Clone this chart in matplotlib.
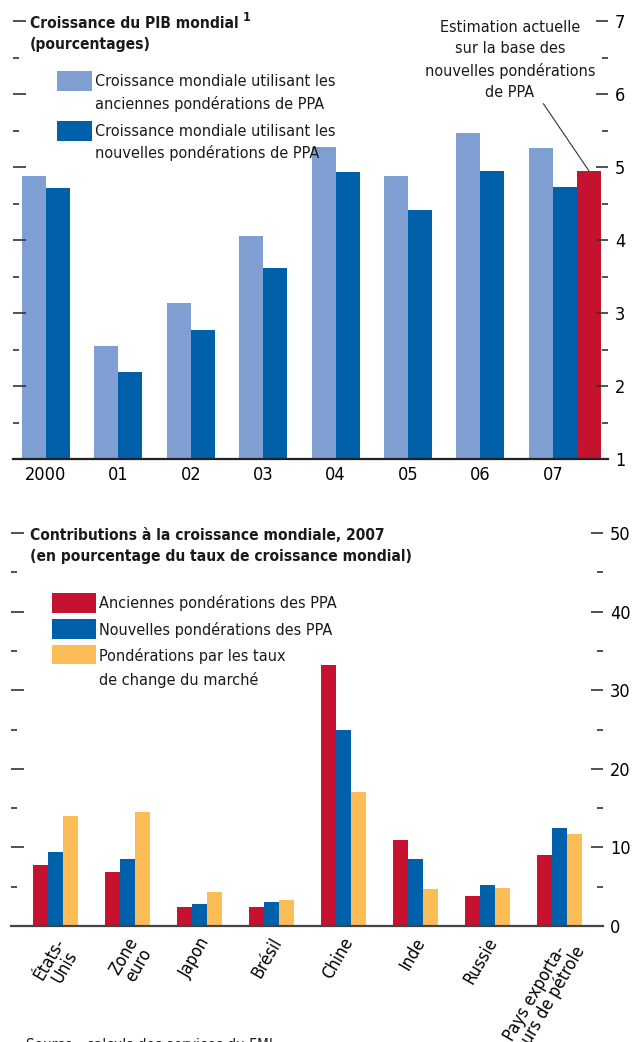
import numpy as np
import matplotlib
matplotlib.use("Agg")
import matplotlib.pyplot as plt
from matplotlib import font_manager
from matplotlib.patches import Rectangle
from matplotlib.ticker import MultipleLocator

# ---- data ----
years = ["2000", "01", "02", "03", "04", "05", "06", "07"]
growth_old_ppp = [4.87, 2.55, 3.14, 4.06, 5.28, 4.87, 5.46, 5.26]
growth_new_ppp = [4.71, 2.19, 2.77, 3.62, 4.93, 4.41, 4.95, 4.73]
growth_current_estimate = 4.95  # 2007, new PPP weights

regions = ["États-\nUnis", "Zone\neuro", "Japon", "Brésil", "Chine", "Inde",
           "Russie", "Pays exporta-\nteurs de pétrole"]
contrib_old_ppp = [7.8, 6.9, 2.4, 2.4, 33.2, 10.9, 3.8, 9.0]
contrib_new_ppp = [9.4, 8.5, 2.8, 3.05, 24.9, 8.5, 5.2, 12.5]
contrib_market = [14.0, 14.5, 4.35, 3.3, 17.1, 4.7, 4.8, 11.7]

LIGHT_BLUE = "#7f9ed2"
DARK_BLUE = "#0060aa"
RED = "#c4122f"
YELLOW = "#fdbd56"

names = {f.name for f in font_manager.fontManager.ttflist}
if "Liberation Sans Narrow" in names:
    plt.rcParams["font.family"] = ["Liberation Sans Narrow", "DejaVu Sans"]
else:
    plt.rcParams["font.family"] = ["DejaVu Sans"]
    plt.rcParams["font.stretch"] = "condensed"
plt.rcParams["text.color"] = "#1a1a1a"

TXT = 11.6     # legend / annotation text
TITLE = 11.2   # bold panel titles
TICK = 13

W, H = 633, 1042
fig = plt.figure(figsize=(W / 100, H / 100), dpi=100)


def px_axes(x0, x1, y_top, y_bot):
    return fig.add_axes([x0 / W, 1 - y_bot / H, (x1 - x0) / W, (y_bot - y_top) / H])


def fig_text(x, y, s, **kw):
    return fig.text(x / W, 1 - y / H, s, **kw)


def fig_patch(x0, y0, x1, y1, color):
    fig.patches.append(Rectangle((x0 / W, 1 - y1 / H), (x1 - x0) / W, (y1 - y0) / H,
                                 transform=fig.transFigure, color=color, lw=0))


def style_axes(ax):
    for side in ("left", "top", "right"):
        ax.spines[side].set_visible(False)
    ax.spines["bottom"].set_color("#222222")
    ax.spines["bottom"].set_linewidth(1.6)
    ax.tick_params(axis="y", which="both", left=True, right=True, labelleft=False,
                   labelright=True, direction="in", color="#333333", width=1.2,
                   labelsize=TICK, pad=5)
    ax.tick_params(axis="y", which="major", length=9)
    ax.tick_params(axis="y", which="minor", length=4.5)
    ax.tick_params(axis="x", length=0, labelsize=TICK, pad=5)


# ---- top panel: world GDP growth ----
ax1 = px_axes(13, 608, 21, 459)
x = np.arange(len(years))
w = 24 / 72.4
ax1.bar(x - w / 2, growth_old_ppp, w, color=LIGHT_BLUE, lw=0)
ax1.bar(x + w / 2, growth_new_ppp, w, color=DARK_BLUE, lw=0)
ax1.bar(x[-1] + 1.5 * w, growth_current_estimate, w, color=RED, lw=0)
ax1.set_xlim((13 - 46) / 72.4, (608 - 46) / 72.4)
ax1.set_ylim(1, 7)
ax1.yaxis.set_major_locator(MultipleLocator(1))
ax1.yaxis.set_minor_locator(MultipleLocator(0.5))
ax1.set_xticks(x)
ax1.set_xticklabels(years)
style_axes(ax1)

title1 = fig_text(30, 23, "Croissance du PIB mondial", fontsize=TITLE,
                  fontweight="bold", va="center")
fig.canvas.draw()
ax1.annotate("1", xy=(1, 1), xycoords=title1, xytext=(3, -6),
             textcoords="offset points", fontsize=9, fontweight="bold",
             ha="left", va="bottom")
fig_text(30, 45, "(pourcentages)", fontsize=TITLE, fontweight="bold", va="center")

fig_patch(57, 71, 92, 91, LIGHT_BLUE)
fig_text(95, 82, "Croissance mondiale utilisant les", fontsize=TXT, va="center")
fig_text(95, 104, "anciennes pondérations de PPA", fontsize=TXT, va="center")
fig_patch(57, 121, 92, 141, DARK_BLUE)
fig_text(95, 131, "Croissance mondiale utilisant les", fontsize=TXT, va="center")
fig_text(95, 153, "nouvelles pondérations de PPA", fontsize=TXT, va="center")

ax1.annotate("Estimation actuelle\nsur la base des\nnouvelles pondérations\nde PPA",
             xy=(x[-1] + 1.5 * w, growth_current_estimate),
             xytext=(510 / W, 1 - 60 / H), textcoords="figure fraction",
             ha="center", va="center", fontsize=TXT, linespacing=1.5,
             arrowprops=dict(arrowstyle="-", color="#333333", lw=0.8,
                             shrinkA=1, shrinkB=0, relpos=(0.68, 0.0)))

# ---- bottom panel: contributions to world growth ----
ax2 = px_axes(11, 603, 533, 926)
x2 = np.arange(len(regions))
w2 = 15 / 72.07
ax2.bar(x2 - w2, contrib_old_ppp, w2, color=RED, lw=0)
ax2.bar(x2, contrib_new_ppp, w2, color=DARK_BLUE, lw=0)
ax2.bar(x2 + w2, contrib_market, w2, color=YELLOW, lw=0)
ax2.set_xlim((11 - 55) / 72.07, (603 - 55) / 72.07)
ax2.set_ylim(0, 50)
ax2.yaxis.set_major_locator(MultipleLocator(10))
ax2.yaxis.set_minor_locator(MultipleLocator(5))
ax2.set_xticks(x2 - 0.02)
ax2.set_xticklabels(regions, rotation=60, ha="right", va="top",
                    rotation_mode="anchor", multialignment="center", linespacing=0.95)
style_axes(ax2)
ax2.tick_params(axis="x", labelsize=12.5, pad=6)
ax2.spines["bottom"].set_color("#444444")

fig_text(30, 535, "Contributions à la croissance mondiale, 2007", fontsize=TITLE,
         fontweight="bold", va="center")
fig_text(30, 557, "(en pourcentage du taux de croissance mondial)", fontsize=TITLE,
         fontweight="bold", va="center")

fig_patch(52, 593, 96, 613, RED)
fig_text(99, 603, "Anciennes pondérations des PPA", fontsize=TXT, va="center")
fig_patch(52, 619, 96, 639, DARK_BLUE)
fig_text(99, 630, "Nouvelles pondérations des PPA", fontsize=TXT, va="center")
fig_patch(52, 645, 96, 664, YELLOW)
fig_text(99, 656, "Pondérations par les taux", fontsize=TXT, va="center")
fig_text(99, 680, "de change du marché", fontsize=TXT, va="center")

fig_text(26, 1046, "Source : calculs des services du FMI.", fontsize=11, va="center")

fig.savefig("out.png", dpi=100)
